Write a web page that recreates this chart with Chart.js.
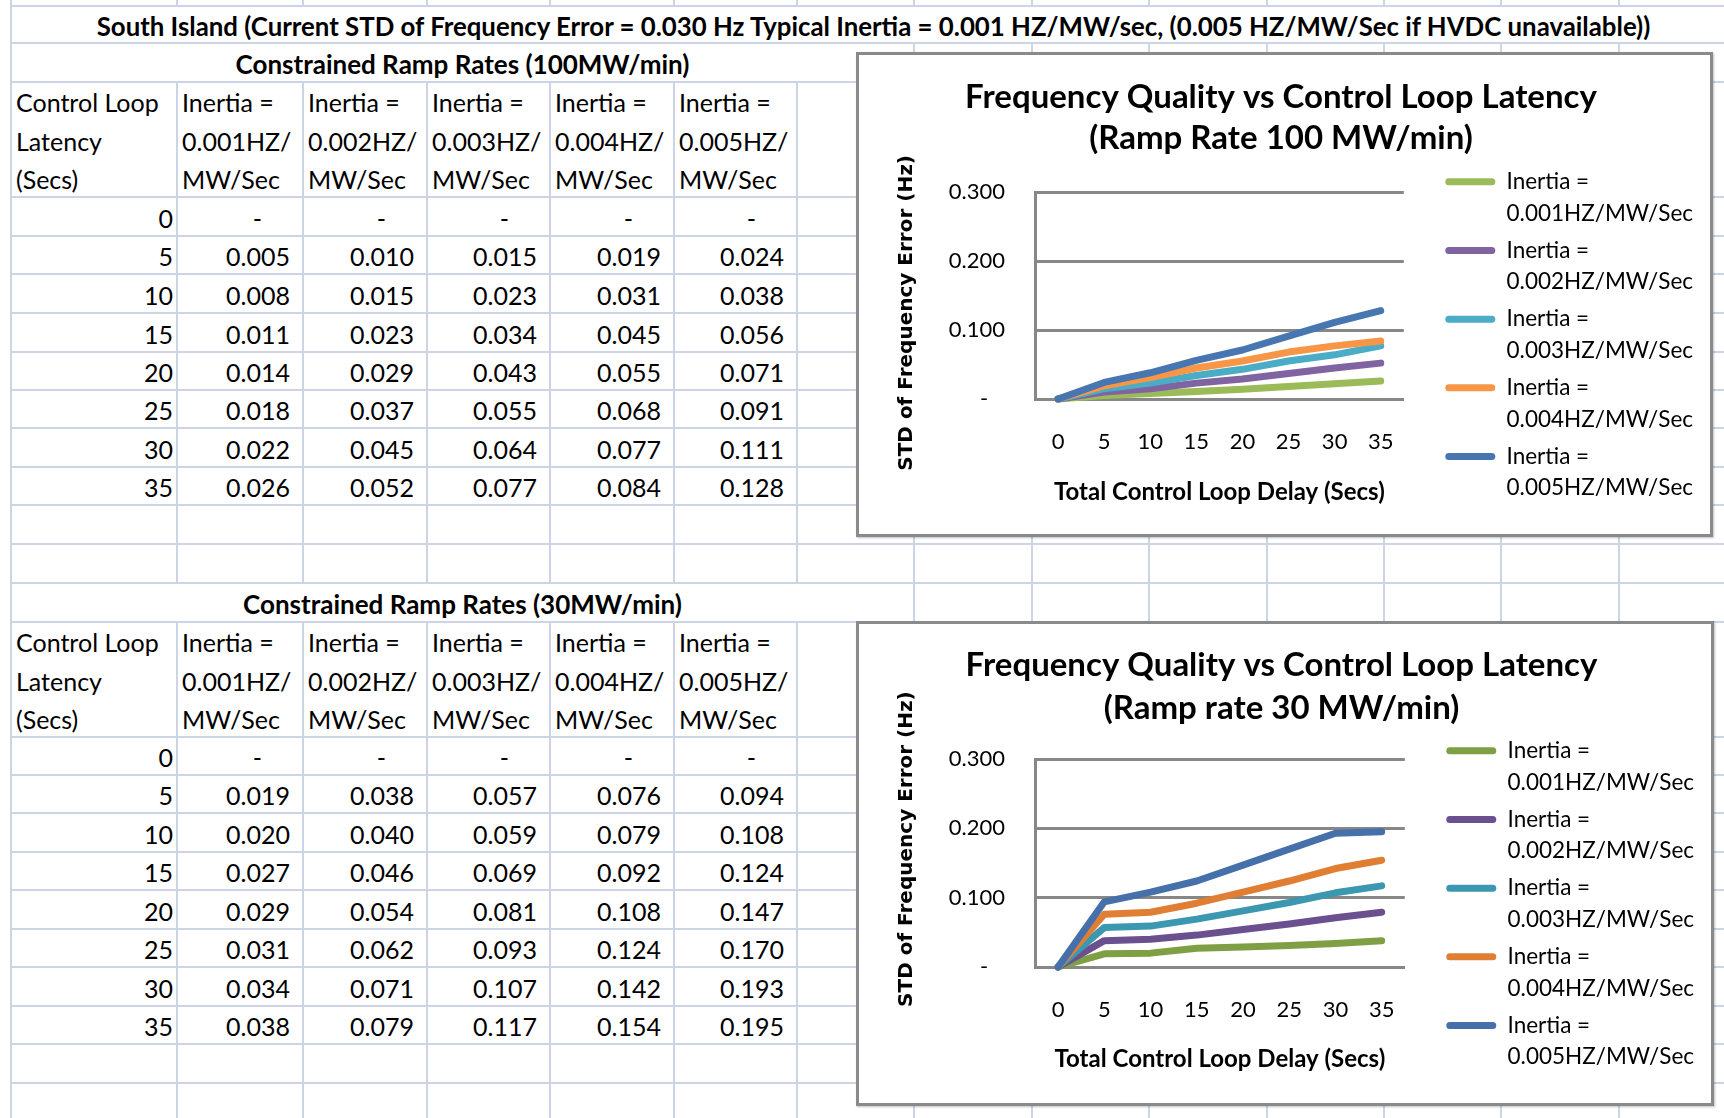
<!DOCTYPE html>
<html>
<head>
<meta charset="utf-8">
<script src="https://cdn.jsdelivr.net/npm/chart.js@4.4.1/dist/chart.umd.min.js"></script>
<style>
  html, body { margin: 0; padding: 0; background: #fff; }
  #sheet { position: relative; width: 1724px; height: 1118px; overflow: hidden; font-family: Lato, "Open Sans", sans-serif; color: #000; }
  .gl { position: absolute; background: #cbd5e6; }
  .txt { position: absolute; white-space: nowrap; font-size: 25px; box-sizing: border-box; padding-top: 3px; }
  .txt.b { font-weight: bold; font-size: 26px; }
  .txt.big { font-size: 25.8px; }
  .chartbox { position: absolute; background: #fff; border: 3px solid #8a8a8a; box-shadow: 1px 1px 2px rgba(0,0,0,0.25); }
  .chartbox canvas { display: block; }
</style>
</head>
<body>
<div id="sheet">
  <div class="chartbox" style="left:856px;top:52px;width:851px;height:479px"><canvas id="chart100" width="851" height="479"></canvas></div>
  <div class="chartbox" style="left:856px;top:621px;width:852px;height:479px"><canvas id="chart30" width="852" height="479"></canvas></div>
</div>
<script>
// data read from the sheet
const latency = [0, 5, 10, 15, 20, 25, 30, 35];
const inertia = ['0.001', '0.002', '0.003', '0.004', '0.005'];

// Constrained ramp rates (100MW/min)
const ramp100_001 = [0, 0.005, 0.008, 0.011, 0.014, 0.018, 0.022, 0.026];
const ramp100_002 = [0, 0.010, 0.015, 0.023, 0.029, 0.037, 0.045, 0.052];
const ramp100_003 = [0, 0.015, 0.023, 0.034, 0.043, 0.055, 0.064, 0.077];
const ramp100_004 = [0, 0.019, 0.031, 0.045, 0.055, 0.068, 0.077, 0.084];
const ramp100_005 = [0, 0.024, 0.038, 0.056, 0.071, 0.091, 0.111, 0.128];

// Constrained ramp rates (30MW/min)
const ramp30_001 = [0, 0.019, 0.020, 0.027, 0.029, 0.031, 0.034, 0.038];
const ramp30_002 = [0, 0.038, 0.040, 0.046, 0.054, 0.062, 0.071, 0.079];
const ramp30_003 = [0, 0.057, 0.059, 0.069, 0.081, 0.093, 0.107, 0.117];
const ramp30_004 = [0, 0.076, 0.079, 0.092, 0.108, 0.124, 0.142, 0.154];
const ramp30_005 = [0, 0.094, 0.108, 0.124, 0.147, 0.170, 0.193, 0.195];

const yTicks = [0, 0.1, 0.2, 0.3];

const ramp100 = [ramp100_001, ramp100_002, ramp100_003, ramp100_004, ramp100_005];
const ramp30 = [ramp30_001, ramp30_002, ramp30_003, ramp30_004, ramp30_005];

const colors100 = ['#9bbb59', '#8064a2', '#4bacc6', '#f79646', '#4876b0'];
const colors30 = ['#7f9f45', '#6b5090', '#3c98b0', '#e07f33', '#4670aa'];

// ---- spreadsheet grid ----
const sheet = document.getElementById('sheet');
const colX = [11, 177, 303, 427, 550, 674, 797, 914, 1032, 1149, 1267, 1384, 1501, 1619, 1736];
const rowY = [6, 43, 82, 197, 236, 274, 313, 352, 390, 428, 467, 505, 544, 583, 622,
              737, 775, 813, 852, 890, 929, 967, 1006, 1044, 1083, 1121];

function line(x, y, w, h) {
  const d = document.createElement('div');
  d.className = 'gl';
  d.style.cssText = `left:${x}px;top:${y}px;width:${w}px;height:${h}px`;
  sheet.insertBefore(d, sheet.firstChild);
}

rowY.forEach(y => line(colX[0], y - 1, 1724 - colX[0], 2));

const spans = [[0, rowY[0]]].concat(rowY.slice(0, -1).map((y, k) => [y, rowY[k + 1]]));
colX.forEach((x, i) => {
  spans.forEach(([a, b]) => {
    if (i > 0 && a === 6) return;                                 // title merged across
    if (i > 0 && i <= 6 && (a === 43 || a === 583)) return;      // subtitles merged A-G
    line(x - 1, a, 2, b - a);
  });
});

function cell(str, x, y, w, h, align, cls) {
  const d = document.createElement('div');
  d.className = 'txt' + (cls ? ' ' + cls : '');
  d.textContent = str;
  d.style.cssText = `left:${x}px;top:${y}px;width:${w}px;height:${h}px;line-height:${h - 3}px;text-align:${align};`;
  sheet.insertBefore(d, document.querySelector('.chartbox'));
}

cell('South Island (Current STD of Frequency Error = 0.030 Hz Typical Inertia = 0.001 HZ/MW/sec, (0.005 HZ/MW/Sec if HVDC unavailable))',
  colX[0], 6, colX[14] - colX[0], 37, 'center', 'b big');

function buildTable(subTop, subtitle, headTop, firstRow, series) {
  cell(subtitle, colX[0], subTop, colX[7] - colX[0], 39, 'center', 'b');
  const lh = 38.5;
  ['Control Loop', 'Latency', '(Secs)'].forEach((t, k) => cell(t, colX[0] + 5, headTop + k * lh, 160, lh, 'left'));
  inertia.forEach((inr, i) => {
    ['Inertia =', inr + 'HZ/', 'MW/Sec'].forEach((t, k) => cell(t, colX[i + 1] + 5, headTop + k * lh, 120, lh, 'left'));
  });
  latency.forEach((lat, r) => {
    const top = rowY[firstRow + r], h = rowY[firstRow + r + 1] - top;
    cell(String(lat), colX[0], top, colX[1] - 4 - colX[0], h, 'right');
    series.forEach((vals, i) => {
      const v = vals[r];
      if (v === 0) cell('-', colX[i + 1], top, colX[i + 2] - 41 - colX[i + 1], h, 'right');
      else cell(v.toFixed(3), colX[i + 1], top, colX[i + 2] - 13 - colX[i + 1], h, 'right');
    });
  });
}

buildTable(43, 'Constrained Ramp Rates (100MW/min)', 82, 3, ramp100);
buildTable(583, 'Constrained Ramp Rates (30MW/min)', 622, 15, ramp30);

// ---- charts ----
Chart.defaults.font.family = 'Lato';
Chart.defaults.color = '#000';

// let the right-hand legend be as wide as its labels (layout caps it at a share of the canvas)
const wideLegend = {
  id: 'wideLegend',
  afterInit(chart) {
    const lg = chart.legend;
    if (!lg) return;
    const fit = lg.fit;
    lg.fit = function () {
      fit.call(this);
      if (!this.isHorizontal() && this.columnSizes) {
        const pad = this.options.labels.padding;
        this.width = pad + this.columnSizes.reduce((s, c) => s + c.width, 0) +
          (this.columnSizes.length - 1) * pad + 10;
      }
    };
  }
};

function makeChart(id, title, yTitle, series, colors, lay) {
  const grey = '#878787';
  return new Chart(document.getElementById(id), {
    type: 'line',
    plugins: [wideLegend],
    data: {
      labels: latency.map(String),
      datasets: series.map((vals, i) => ({
        label: 'Inertia = ' + inertia[i] + 'HZ/MW/Sec',
        data: vals,
        borderColor: colors[i],
        backgroundColor: colors[i],
        borderWidth: 7,
        borderJoinStyle: 'round',
        borderCapStyle: 'round',
        pointRadius: 0,
        pointHoverRadius: 0,
        tension: 0,
        clip: false,
        order: series.length - i
      }))
    },
    options: {
      responsive: false,
      animation: false,
      events: [],
      layout: { padding: { left: 0, right: 7, top: 0, bottom: 20 } },
      plugins: {
        tooltip: { enabled: false },
        title: {
          display: true,
          text: title,
          color: '#000',
          font: { family: 'Lato', weight: 'bold', size: 33, lineHeight: lay.titleLH + 'px' },
          padding: { top: lay.titleTop, bottom: lay.titleBottom }
        },
        legend: {
          position: 'right',
          align: 'end',
          labels: {
            boxWidth: 50,
            boxHeight: 7,
            useBorderRadius: true,
            borderRadius: 3.5,
            padding: 5.5,
            color: '#000',
            font: { size: 22.5, lineHeight: '31.6px' },
            generateLabels: chart => chart.data.datasets.map((ds, i) => ({
              text: ['Inertia =', inertia[i] + 'HZ/MW/Sec'],
              fillStyle: ds.borderColor,
              strokeStyle: ds.borderColor,
              lineWidth: 0,
              borderRadius: 3.5,
              fontColor: '#000',
              hidden: false,
              datasetIndex: i
            }))
          }
        }
      },
      scales: {
        x: {
          type: 'category',
          offset: true,
          grid: { display: false, drawTicks: false },
          border: { display: true, color: grey, width: 3 },
          ticks: { padding: 30, font: { size: 22 }, color: '#000' },
          title: {
            display: true,
            text: 'Total Control Loop Delay (Secs)',
            color: '#000',
            font: { family: 'Lato', weight: 'bold', size: 24 },
            padding: { top: 0, bottom: lay.xTitleBottom }
          },
          afterFit: s => { s.height = lay.xHeight; }
        },
        y: {
          min: 0,
          max: 0.3,
          afterBuildTicks: s => { s.ticks = yTicks.map(v => ({ value: v })); },
          grid: { color: grey, lineWidth: 3, drawTicks: false },
          border: { display: true, color: grey, width: 3 },
          ticks: {
            padding: 30,
            font: { size: 22 },
            color: '#000',
            callback: v => v === 0 ? '-\u00a0\u00a0\u00a0' : v.toFixed(3)
          },
          title: {
            display: true,
            text: yTitle,
            color: '#000',
            font: { family: 'DejaVu Sans', weight: 'bold', size: 20 },
            padding: { top: 36, bottom: 0 }
          },
          afterFit: s => { s.width = 176; }
        },
        gap: {
          type: 'linear',
          position: 'right',
          grid: { display: false, drawTicks: false },
          border: { display: false },
          ticks: { display: false },
          afterFit: s => { s.width = lay.gap; }
        }
      }
    }
  });
}

makeChart('chart100',
  ['Frequency Quality vs Control Loop Latency', '(Ramp Rate 100 MW/min)'],
  'STD of Frequency Error (Hz)' + '\u00a0'.repeat(5),
  ramp100, colors100,
  { titleLH: 41, titleTop: 21.5, titleBottom: 33.5, xHeight: 115, xTitleBottom: 7, gap: 36 });

makeChart('chart30',
  ['Frequency Quality vs Control Loop Latency', '(Ramp rate 30 MW/min)'],
  '\u00a0'.repeat(4) + 'STD of Frequency Error (Hz)',
  ramp30, colors30,
  { titleLH: 43, titleTop: 19.5, titleBottom: 29.5, xHeight: 116, xTitleBottom: 9, gap: 36 });
</script>
</body>
</html>
